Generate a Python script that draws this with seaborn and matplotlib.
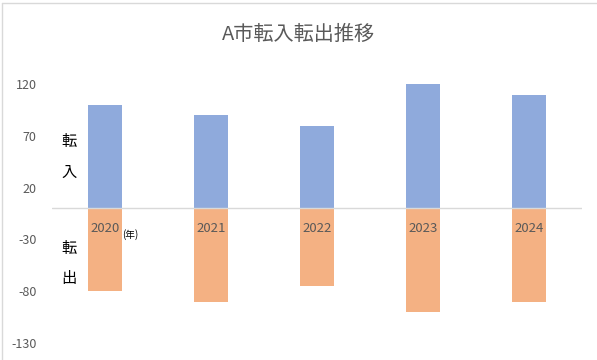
import matplotlib
matplotlib.use("Agg")
import matplotlib.pyplot as plt
import seaborn as sns
import pandas as pd

years = ["2020", "2021", "2022", "2023", "2024"]
tennyu = [100, 90, 79, 120, 109]
tenshutsu = [-80, -90, -75, -100, -90]
yticks = [120, 70, 20, -30, -80, -130]
title = "A市転入転出推移"

sns.set_theme(style="white")
plt.rcParams['font.family'] = ['Noto Sans CJK JP', 'DejaVu Sans']

df = pd.DataFrame({
    "year": years * 2,
    "value": tennyu + tenshutsu,
    "kind": ["転入"] * len(years) + ["転出"] * len(years),
})

fig = plt.figure(figsize=(5.97, 3.6), dpi=100)
ax = fig.add_axes([52/597, 1 - 343/360, 530/597, (343 - 84)/360])

sns.barplot(data=df, x="year", y="value", hue="kind", order=years,
            palette={"転入": "#8FAADC", "転出": "#F4B183"},
            dodge=False, width=0.32, saturation=1, legend=False, ax=ax,
            edgecolor="none", linewidth=0)

ax.set_xlim(-0.5, len(years) - 0.5)
ax.set_ylim(-130, 120)
ax.set_yticks(yticks)
ax.set_yticklabels([str(t) for t in yticks], color="#595959", fontsize=9)
ax.tick_params(axis="y", length=0, pad=11)
ax.set_xticks([])
ax.set_xlabel("")
ax.set_ylabel("")
for s in ax.spines.values():
    s.set_visible(False)
ax.axhline(0, color="#D9D9D9", linewidth=1, zorder=3)

for i, y in enumerate(years):
    ax.text(i, -19, y, ha="center", va="center", color="#595959", fontsize=9.5, zorder=4)
ax.text(0.235, -25, "(年)", ha="center", va="center", color="#000000", fontsize=7, zorder=4)

# vertical side labels
fig.text(69/597, 1 - 142/360, "転", ha="center", va="center", fontsize=11, color="#000000")
fig.text(69/597, 1 - 172/360, "入", ha="center", va="center", fontsize=11, color="#000000")
fig.text(69/597, 1 - 248/360, "転", ha="center", va="center", fontsize=11, color="#000000")
fig.text(69/597, 1 - 278/360, "出", ha="center", va="center", fontsize=11, color="#000000")

fig.text(298/597, 1 - 34/360, title, ha="center", va="center", fontsize=14.5, color="#595959")

# chart border (left and top)
fig.add_artist(plt.Line2D([1.5/597, 1.5/597], [0, 1 - 2.5/360], transform=fig.transFigure, color="#D9D9D9", linewidth=1))
fig.add_artist(plt.Line2D([1.5/597, 1], [1 - 2.5/360, 1 - 2.5/360], transform=fig.transFigure, color="#D9D9D9", linewidth=1))

fig.savefig("out.png", dpi=100)
